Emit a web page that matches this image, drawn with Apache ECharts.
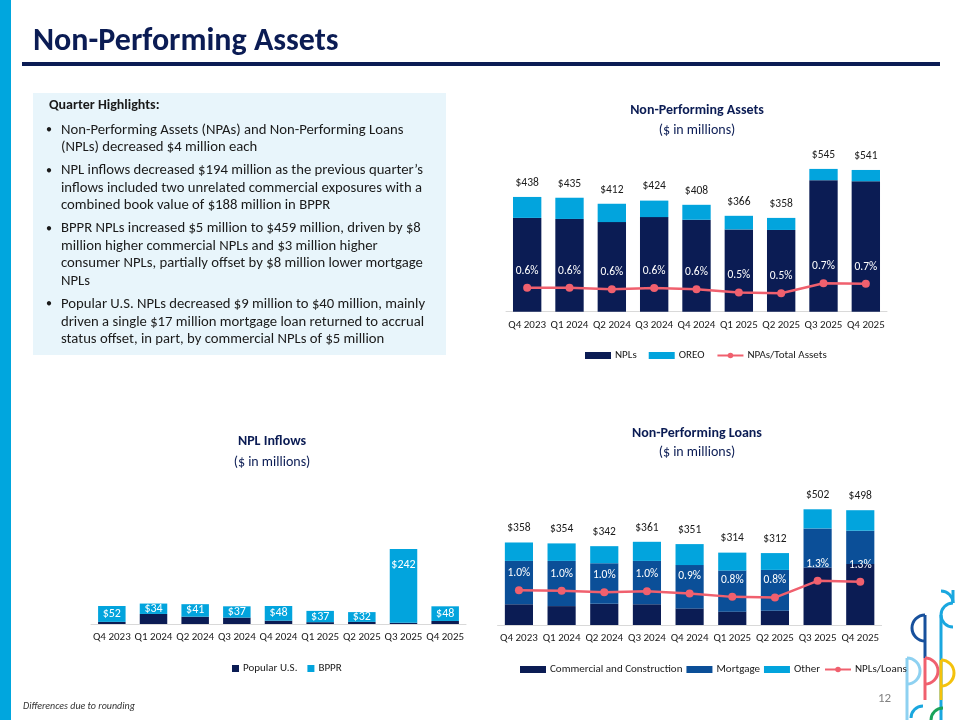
<!DOCTYPE html>
<html><head><meta charset="utf-8">
<script src="https://cdn.jsdelivr.net/npm/echarts@6/dist/echarts.min.js"></script>
<style>html,body{margin:0;padding:0;background:#fff}#c{width:960px;height:720px}</style>
</head><body><div id="c"></div><script>
// ---- data ----
const quarters = ['Q4 2023','Q1 2024','Q2 2024','Q3 2024','Q4 2024','Q1 2025','Q2 2025','Q3 2025','Q4 2025'];
// Non-Performing Assets ($ millions)
const npaNPLs  = [358,354,342,361,351,314,312,502,498];
const npaOREO  = [80,81,70,63,57,52,46,43,43];
const npaTotal = [438,435,412,424,408,366,358,545,541];
const npaRatio = [0.60,0.60,0.56,0.59,0.56,0.48,0.46,0.71,0.70]; // NPAs/Total Assets %
// NPL Inflows ($ millions)
const inflowUS   = [7,33,24,21,11,6,7,4,10];
const inflowBPPR = [52,34,41,37,48,37,32,242,48];
// Non-Performing Loans ($ millions)
const nplCommercial = [90,82,92,90,72,58,62,250,265];
const nplMortgage   = [188,196,176,188,188,178,177,169,144];
const nplOther      = [80,76,74,83,91,78,73,83,89];
const nplTotal      = [358,354,342,361,351,314,312,502,498];
const nplRatio      = [1.04,1.02,0.98,1.01,0.94,0.84,0.82,1.32,1.29]; // NPLs/Loans %

const highlights = [
  ['Non-Performing Assets (NPAs) and Non-Performing Loans','(NPLs) decreased $4 million each'],
  ['NPL inflows decreased $194 million as the previous quarter\u2019s','inflows included two unrelated commercial exposures with a','combined book value of $188 million in BPPR'],
  ['BPPR NPLs increased $5 million to $459 million, driven by $8','million higher commercial NPLs and $3 million higher','consumer NPLs, partially offset by $8 million lower mortgage','NPLs'],
  ['Popular U.S. NPLs decreased $9 million to $40 million, mainly','driven a single $17 million mortgage loan returned to accrual','status offset, in part, by commercial NPLs of $5 million']
];

// ---- styles ----
const NAVY = '#0b1c54', MID = '#0b4f98', LIGHT = '#02a4dd', PINK = '#f0606e', TXT = '#1a1a1a';
const FONT = 'Carlito, Lato, "Open Sans", sans-serif';

const chart = echarts.init(document.getElementById('c'), null, {renderer: 'canvas'});

const graphic = [];
graphic.push({type:'rect', shape:{x:0,y:0,width:11,height:720}, style:{fill:'#00a6de'}});
graphic.push({type:'text', x:33, y:42, style:{text:'Non-Performing Assets', font:'bold 32px '+FONT, fill:NAVY, textVerticalAlign:'middle'}});
graphic.push({type:'rect', shape:{x:22,y:62,width:918,height:4}, style:{fill:NAVY}});
graphic.push({type:'rect', shape:{x:33,y:93,width:413,height:262}, style:{fill:'#e8f5fb'}});
graphic.push({type:'text', x:49, y:105, style:{text:'Quarter Highlights:', font:'bold 14px '+FONT, fill:TXT, textVerticalAlign:'middle'}});
let ly = 130;
highlights.forEach((para) => {
  graphic.push({type:'text', x:46, y:ly, style:{text:'\u2022', font:'12px '+FONT, fill:TXT, textVerticalAlign:'middle'}});
  para.forEach((line) => {
    graphic.push({type:'text', x:61, y:ly, style:{text:line, font:'14.7px '+FONT, fill:TXT, textVerticalAlign:'middle'}});
    ly += 17.6;
  });
  ly += 5.3;
});
function ctitle(x, y, t, bold) {
  graphic.push({type:'text', x:x, y:y, style:{text:t, font:(bold?'bold ':'')+'14px '+FONT, fill:NAVY, textAlign:'center', textVerticalAlign:'middle'}});
}
ctitle(697,110,'Non-Performing Assets',true); ctitle(697,130,'($ in millions)',false);
ctitle(272,441,'NPL Inflows',true); ctitle(272,462,'($ in millions)',false);
ctitle(697,433,'Non-Performing Loans',true); ctitle(697,452,'($ in millions)',false);
graphic.push({type:'text', x:23, y:706, style:{text:'Differences due to rounding', font:'italic 10px '+FONT, fill:'#333', textVerticalAlign:'middle'}});
graphic.push({type:'text', x:878, y:699, style:{text:'12', font:'13px '+FONT, fill:'#808080', textVerticalAlign:'middle'}});
// decorative logo
function arc(cx, cy, r, s, e, col) { graphic.push({type:'arc', shape:{cx:cx,cy:cy,r:r,startAngle:s,endAngle:e,clockwise:true}, style:{stroke:col, lineWidth:3, fill:null}}); }
function vl(x, y1, y2, col) { graphic.push({type:'line', shape:{x1:x,y1:y1,x2:x,y2:y2}, style:{stroke:col, lineWidth:3}}); }
const P = Math.PI;
vl(953, 590, 603, '#1aa7df'); arc(953, 615, 12, P/2, 3*P/2, '#1aa7df'); vl(941, 615, 720, '#1aa7df');
arc(941, 603, 12, -P/2, 0, '#1aa7df');
arc(925, 628, 13, P/2, 3*P/2, '#17509c'); vl(925, 615, 658, '#17509c');
vl(925, 658, 700, PINK); arc(925, 671, 13, -P/2, P/2, PINK);
vl(907, 658, 720, '#8ed1f1'); arc(907, 671, 13, -P/2, P/2, '#8ed1f1');
vl(941, 660, 700, '#f4c20d'); arc(941, 673, 13, -P/2, P/2, '#f4c20d');
arc(923, 718, 12, P, 3*P/2, '#1aa7df'); arc(943, 720, 12, P, 3*P/2, '#1aa35b');

const xBase = (gi) => ({type:'category', gridIndex:gi, data:quarters,
  axisTick:{show:false}, axisLine:{lineStyle:{color:'#d9d9d9', width:1}},
  axisLabel:{color:TXT, fontSize:11, fontFamily:FONT, margin:8, interval:0}});
const yHidden = (gi, min, max) => ({type:'value', gridIndex:gi, min:min, max:max, show:false, splitLine:{show:false}});

const barLbl = {color:TXT, fontSize:11.5, fontFamily:FONT};
const lineLbl = {show:true, position:'top', distance:7, color:'#ffffff', fontSize:11.5, fontFamily:FONT,
  formatter:(p)=>p.value.toFixed(1)+'%'};
const legTxt = {color:TXT, fontSize:11, fontFamily:FONT, padding:[0,0,0,-1]};

const option = {
  animation:false,
  textStyle:{fontFamily:FONT},
  graphic:graphic,
  grid:[
    {left:506, top:154.5, width:381, height:157.2, outerBoundsMode:'none'},
    {left:91, top:532.5, width:375, height:91.5, outerBoundsMode:'none'},
    {left:497.6, top:486.7, width:384, height:138.3, outerBoundsMode:'none'}
  ],
  xAxis:[xBase(0), xBase(1), xBase(2)],
  yAxis:[yHidden(0,0,600), yHidden(0,0,3.93), yHidden(1,0,300), yHidden(2,0,600), yHidden(2,0,4.13)],
  legend:[
    {left:580, top:345, itemWidth:26, itemHeight:7, itemGap:12, textStyle:legTxt,
     data:[{name:'NPLs',icon:'rect'},{name:'OREO',icon:'rect'},{name:'NPAs/Total Assets'}]},
    {left:227, top:658, itemWidth:7, itemHeight:7, itemGap:10, textStyle:legTxt,
     data:[{name:'Popular U.S.',icon:'rect'},{name:'BPPR',icon:'rect'}]},
    {left:515, top:659, itemWidth:26, itemHeight:7, itemGap:4, textStyle:legTxt,
     data:[{name:'Commercial and Construction',icon:'rect'},{name:'Mortgage',icon:'rect'},{name:'Other',icon:'rect'},{name:'NPLs/Loans'}]}
  ],
  series:[
    {name:'NPLs', type:'bar', stack:'npa', xAxisIndex:0, yAxisIndex:0, data:npaNPLs, itemStyle:{color:NAVY}, barCategoryGap:'33%'},
    {name:'OREO', type:'bar', stack:'npa', xAxisIndex:0, yAxisIndex:0, data:npaOREO, itemStyle:{color:LIGHT},
     label:Object.assign({show:true, position:'top', distance:8, formatter:(p)=>'$'+npaTotal[p.dataIndex]}, barLbl)},
    {name:'NPAs/Total Assets', type:'line', xAxisIndex:0, yAxisIndex:1, data:npaRatio, symbol:'circle', symbolSize:8,
     itemStyle:{color:PINK}, lineStyle:{color:PINK, width:2.5}, label:lineLbl, z:5},

    {name:'Popular U.S.', type:'bar', stack:'inf', xAxisIndex:1, yAxisIndex:2, data:inflowUS, itemStyle:{color:NAVY}, barCategoryGap:'34%'},
    {name:'BPPR', type:'bar', stack:'inf', xAxisIndex:1, yAxisIndex:2,
     data:inflowBPPR.map(v => v > 100 ? {value:v, label:{position:'insideTop', distance:10}} : v),
     itemStyle:{color:LIGHT},
     label:{show:true, position:'inside', color:'#fff', fontSize:12, fontFamily:FONT, formatter:(p)=>'$'+p.value}},

    {name:'Commercial and Construction', type:'bar', stack:'npl', xAxisIndex:2, yAxisIndex:3, data:nplCommercial, itemStyle:{color:NAVY}, barCategoryGap:'34%'},
    {name:'Mortgage', type:'bar', stack:'npl', xAxisIndex:2, yAxisIndex:3, data:nplMortgage, itemStyle:{color:MID}},
    {name:'Other', type:'bar', stack:'npl', xAxisIndex:2, yAxisIndex:3, data:nplOther, itemStyle:{color:LIGHT},
     label:Object.assign({show:true, position:'top', distance:8, formatter:(p)=>'$'+nplTotal[p.dataIndex]}, barLbl)},
    {name:'NPLs/Loans', type:'line', xAxisIndex:2, yAxisIndex:4, data:nplRatio, symbol:'circle', symbolSize:8,
     itemStyle:{color:PINK}, lineStyle:{color:PINK, width:2.5}, label:lineLbl, z:5}
  ]
};
chart.setOption(option);
</script></body></html>
